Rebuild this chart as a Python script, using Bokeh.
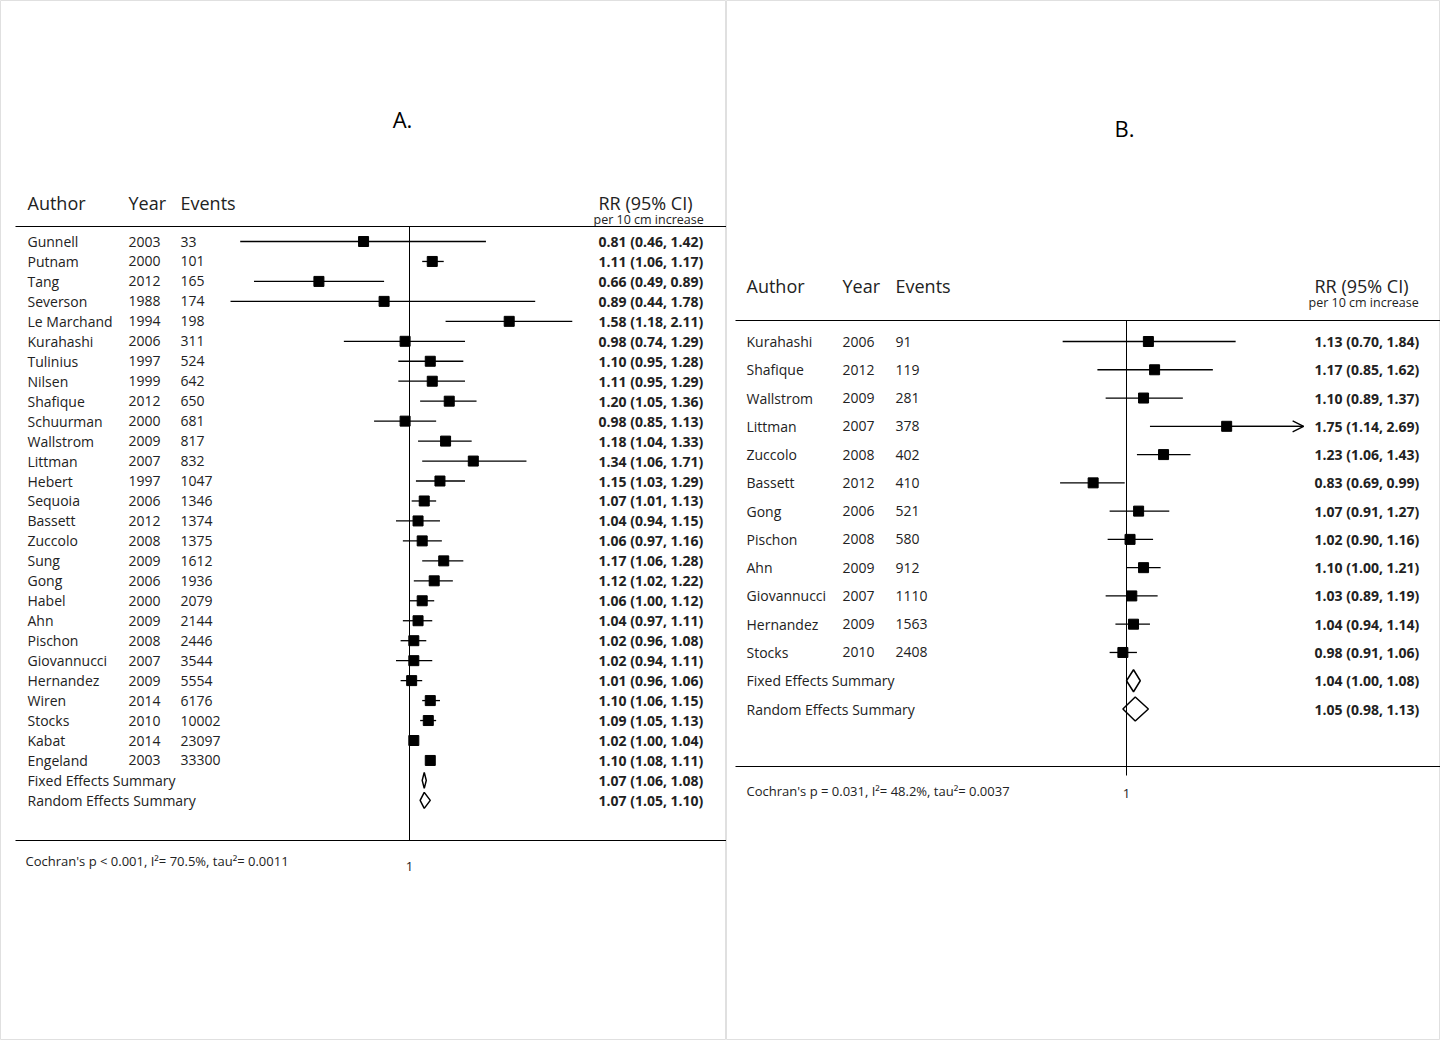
import math
from bokeh.plotting import figure
from bokeh.models import Range1d, LogScale, Arrow, OpenHead, ColumnDataSource
from bokeh.layouts import row
from bokeh.core.properties import value
from bokeh.embed import file_html
from bokeh.resources import INLINE

# ---- Panel A data ----
a_authors = ["Gunnell", "Putnam", "Tang", "Severson", "Le Marchand", "Kurahashi", "Tulinius",
             "Nilsen", "Shafique", "Schuurman", "Wallstrom", "Littman", "Hebert", "Sequoia",
             "Bassett", "Zuccolo", "Sung", "Gong", "Habel", "Ahn", "Pischon", "Giovannucci",
             "Hernandez", "Wiren", "Stocks", "Kabat", "Engeland"]
a_years = [2003, 2000, 2012, 1988, 1994, 2006, 1997, 1999, 2012, 2000, 2009, 2007, 1997, 2006,
           2012, 2008, 2009, 2006, 2000, 2009, 2008, 2007, 2009, 2014, 2010, 2014, 2003]
a_events = [33, 101, 165, 174, 198, 311, 524, 642, 650, 681, 817, 832, 1047, 1346, 1374, 1375,
            1612, 1936, 2079, 2144, 2446, 3544, 5554, 6176, 10002, 23097, 33300]
a_rr = [0.81, 1.11, 0.66, 0.89, 1.58, 0.98, 1.10, 1.11, 1.20, 0.98, 1.18, 1.34, 1.15, 1.07,
        1.04, 1.06, 1.17, 1.12, 1.06, 1.04, 1.02, 1.02, 1.01, 1.10, 1.09, 1.02, 1.10]
a_lo = [0.46, 1.06, 0.49, 0.44, 1.18, 0.74, 0.95, 0.95, 1.05, 0.85, 1.04, 1.06, 1.03, 1.01,
        0.94, 0.97, 1.06, 1.02, 1.00, 0.97, 0.96, 0.94, 0.96, 1.06, 1.05, 1.00, 1.08]
a_hi = [1.42, 1.17, 0.89, 1.78, 2.11, 1.29, 1.28, 1.29, 1.36, 1.13, 1.33, 1.71, 1.29, 1.13,
        1.15, 1.16, 1.28, 1.22, 1.12, 1.11, 1.08, 1.11, 1.06, 1.15, 1.13, 1.04, 1.11]
a_summary = [("Fixed Effects Summary", 1.07, 1.06, 1.08), ("Random Effects Summary", 1.07, 1.05, 1.10)]
a_footer = "Cochran's p < 0.001,  I\u00b2= 70.5%,  tau\u00b2= 0.0011"

# ---- Panel B data ----
b_authors = ["Kurahashi", "Shafique", "Wallstrom", "Littman", "Zuccolo", "Bassett", "Gong",
             "Pischon", "Ahn", "Giovannucci", "Hernandez", "Stocks"]
b_years = [2006, 2012, 2009, 2007, 2008, 2012, 2006, 2008, 2009, 2007, 2009, 2010]
b_events = [91, 119, 281, 378, 402, 410, 521, 580, 912, 1110, 1563, 2408]
b_rr = [1.13, 1.17, 1.10, 1.75, 1.23, 0.83, 1.07, 1.02, 1.10, 1.03, 1.04, 0.98]
b_lo = [0.70, 0.85, 0.89, 1.14, 1.06, 0.69, 0.91, 0.90, 1.00, 0.89, 0.94, 0.91]
b_hi = [1.84, 1.62, 1.37, 2.69, 1.43, 0.99, 1.27, 1.16, 1.21, 1.19, 1.14, 1.06]
b_summary = [("Fixed Effects Summary", 1.04, 1.00, 1.08), ("Random Effects Summary", 1.05, 0.98, 1.13)]
b_footer = "Cochran's p = 0.031,  I\u00b2= 48.2%,  tau\u00b2= 0.0037"

FONT = value("Open Sans")


def fmt(r, l, h):
    return f"{r:.2f} ({l:.2f}, {h:.2f})"


def panel(x0, x1, one_x, scale, title, title_xy, head_y, cols, row_y0, row_dy,
          authors, years, events, rr, lo, hi, summary, diamond_h, top_line, bot_line,
          vline_end, footer_xy, one_y, footer, line_x0, arrow_idx=None):
    W, H = x1 - x0, 1040
    p = figure(width=W, height=H, x_range=Range1d(x0, x1), y_range=Range1d(H, 0),
               output_backend="svg", toolbar_location=None, min_border=0,
               extra_x_ranges={"rr": Range1d(math.exp((x0 - one_x) / scale),
                                             math.exp((x1 - one_x) / scale))},
               extra_x_scales={"rr": LogScale()})
    p.axis.visible = False
    p.grid.visible = False
    p.outline_line_color = "#e0e0e0"

    ca, cy, ce, cr, cp = cols
    p.text(x=[title_xy[0]], y=[title_xy[1]], text=[title], text_font=FONT, text_font_size="22px",
           text_align="center", text_baseline="middle", text_color="black")
    p.text(x=[ca, cy, ce, cr], y=[head_y] * 4, text=["Author", "Year", "Events", "RR (95% CI)"],
           text_font=FONT, text_font_size="18px", text_baseline="middle", text_color="#222")
    p.text(x=[cp], y=[head_y + 17], text=["per 10 cm increase"], text_font=FONT,
           text_font_size="12.5px", text_baseline="middle", text_color="#222")

    n = len(authors)
    ys = [row_y0 + row_dy * i for i in range(n)]
    sy = [row_y0 + row_dy * (n + i) for i in range(len(summary))]
    src = ColumnDataSource(dict(y=ys, a=authors, yr=[str(v) for v in years],
                                ev=[str(v) for v in events], rr=rr, lo=lo, hi=hi,
                                lab=[fmt(r, l, h) for r, l, h in zip(rr, lo, hi)]))
    for col, x in (("a", ca), ("yr", cy), ("ev", ce)):
        p.text(x=x, y="y", text=col, source=src, text_font=FONT, text_font_size="14px",
               text_baseline="middle", text_color="#222")
    p.text(x=cr, y="y", text="lab", source=src, text_font=FONT, text_font_size="14px",
           text_font_style="bold", text_baseline="middle", text_color="#222")

    p.segment(x0="lo", x1="hi", y0="y", y1="y", source=src, x_range_name="rr",
              line_color="black", line_width=1.3)
    p.scatter(x="rr", y="y", source=src, x_range_name="rr", marker="square", size=10,
              fill_color="black", line_color="black")
    if arrow_idx is not None:
        p.add_layout(Arrow(end=OpenHead(size=11, line_width=1.3), x_start=rr[arrow_idx],
                           y_start=ys[arrow_idx], x_end=hi[arrow_idx], y_end=ys[arrow_idx],
                           x_range_name="rr", line_width=1.3))

    for (lab, r, l, h), y, dh in zip(summary, sy, diamond_h):
        p.text(x=[ca], y=[y], text=[lab], text_font=FONT, text_font_size="14px",
               text_baseline="middle", text_color="#222")
        p.text(x=[cr], y=[y], text=[fmt(r, l, h)], text_font=FONT, text_font_size="14px",
               text_font_style="bold", text_baseline="middle", text_color="#222")
        p.patch(x=[l, r, h, r], y=[y, y - dh, y, y + dh], x_range_name="rr",
                fill_color="white", line_color="black", line_width=1.5)

    p.segment(x0=[line_x0, line_x0], x1=[x1, x1], y0=[top_line, bot_line], y1=[top_line, bot_line],
              line_color="black", line_width=1)
    p.segment(x0=[1], x1=[1], y0=[top_line], y1=[vline_end], x_range_name="rr",
              line_color="black", line_width=1)
    p.text(x=[footer_xy[0]], y=[footer_xy[1]], text=[footer], text_font=FONT,
           text_font_size="13px", text_baseline="middle", text_color="#222")
    p.text(x=[1], y=[one_y], text=["1"], x_range_name="rr", text_font=FONT, text_font_size="13px",
           text_align="center", text_baseline="middle", text_color="#222")
    return p


pa = panel(0, 726, 409, 218, "A.", (402, 118), 202, (27, 128, 180, 598, 593), 241, 19.96,
           a_authors, a_years, a_events, a_rr, a_lo, a_hi, a_summary, (8, 8), 226, 840, 840,
           (25, 860), 866, a_footer, 15)
pb = panel(726, 1440, 1126, 179, "B.", (1124, 127), 285, (746, 842, 895, 1314, 1308), 341, 28.27,
           b_authors, b_years, b_events, b_rr, b_lo, b_hi, b_summary, (11, 12), 320, 766, 775,
           (746, 790), 793, b_footer, 735, arrow_idx=3)

p = row(pa, pb)
open("out.html", "w").write(file_html(p, INLINE))
